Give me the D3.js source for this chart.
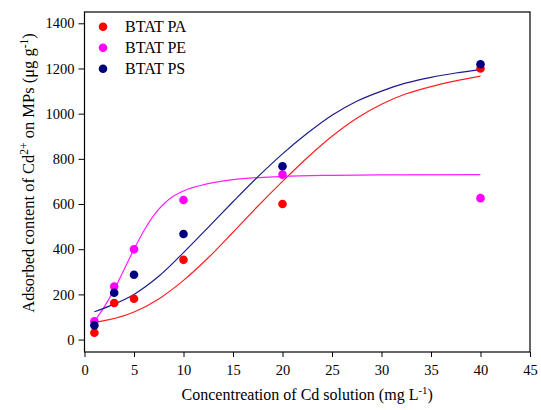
<!DOCTYPE html>
<meta charset="utf-8">
<style>
body { margin: 0; background: #fff; }
svg text { font-family: "Liberation Serif", "Times New Roman", serif; fill: #000; }
.axis path, .axis line { stroke: #000; stroke-width: 1px; }
.fit { fill: none; stroke-width: 1.2px; }
</style>
<div id="chart"></div>
<script src="https://d3js.org/d3.v7.min.js"></script>
<script>

// measured points
var conc = [1, 3, 5, 10, 20, 40];
var pa = [30, 162, 181, 353, 600, 1200];
var pe = [81, 235, 400, 618, 730, 626];
var ps = [63, 207, 287, 467, 767, 1219];

// fitted curves
var fitPaX = [1, 2.5, 5, 7.5, 10, 12.5, 15, 17.5, 20, 22.5, 25, 27.5, 30, 32.5, 35, 37.5, 40];
var fitPa = [76, 88, 122, 180, 262, 362, 475, 590, 700, 805, 900, 980, 1042, 1088, 1120, 1145, 1166];
var fitPeX = [1, 2, 3, 4, 5, 6, 7, 8, 9, 10, 12.5, 15, 20, 25, 30, 40];
var fitPe = [81, 145, 221, 310, 400, 482, 550, 600, 635, 658, 690, 708, 722, 727, 729, 730];
var fitPsX = [1, 2.5, 5, 7.5, 10, 12.5, 15, 17.5, 20, 22.5, 25, 27.5, 30, 32.5, 35, 37.5, 40];
var fitPs = [123, 148, 200, 280, 385, 497, 610, 720, 822, 913, 993, 1055, 1100, 1136, 1161, 1180, 1195];

var xTicks = [0, 5, 10, 15, 20, 25, 30, 35, 40, 45];
var yTicks = [0, 200, 400, 600, 800, 1000, 1200, 1400];

var seriesNames = ["BTAT PA", "BTAT PE", "BTAT PS"];
var colors = ["#ff0000", "#ff00ff", "#000080"];
var lineColors = ["#ff2020", "#ff20ff", "#1c1c8c"];

var width = 541, height = 410;
var mLeft = 84.5, mRight = 530, mTop = 12, mBottom = 352;

var svg = d3.select("#chart").append("svg")
    .attr("width", width)
    .attr("height", height);

var x = d3.scaleLinear().domain([0, 45]).range([mLeft, mRight]);
var y = d3.scaleLinear().domain([-55, 1450]).range([mBottom, mTop]);

// frame
svg.append("rect")
    .attr("x", mLeft).attr("y", mTop)
    .attr("width", mRight - mLeft).attr("height", mBottom - mTop)
    .attr("fill", "none").attr("stroke", "#000").attr("stroke-width", 1.2);

svg.append("g")
    .attr("class", "axis")
    .attr("transform", "translate(0," + mBottom + ")")
    .call(d3.axisBottom(x).tickValues(xTicks).tickSize(5).tickSizeOuter(0))
    .call(function(g) { g.select(".domain").remove(); })
    .selectAll("text").attr("font-size", 14.5).attr("dy", "1.05em");

svg.append("g")
    .attr("class", "axis")
    .attr("transform", "translate(" + mLeft + ",0)")
    .call(d3.axisLeft(y).tickValues(yTicks).tickFormat(d3.format("d")).tickSize(6).tickPadding(4).tickSizeOuter(0))
    .call(function(g) { g.select(".domain").remove(); })
    .selectAll("text").attr("font-size", 14.5);

svg.selectAll(".axis text").attr("font-family", "Liberation Serif");

// axis titles
var xt = svg.append("text")
    .attr("x", (mLeft + mRight) / 2).attr("y", 400)
    .attr("text-anchor", "middle").attr("font-size", 16);
xt.append("tspan").text("Concentreation of Cd solution (mg L");
xt.append("tspan").attr("dy", -6).attr("font-size", 11).text("-1");
xt.append("tspan").attr("dy", 6).text(")");

var yt = svg.append("text")
    .attr("transform", "translate(34,173) rotate(-90)")
    .attr("text-anchor", "middle").attr("font-size", 16.5);
yt.append("tspan").text("Adsorbed content of Cd");
yt.append("tspan").attr("dy", -6).attr("font-size", 11.5).text("2+");
yt.append("tspan").attr("dy", 6).text(" on MPs  (\u03bcg g");
yt.append("tspan").attr("dy", -6).attr("font-size", 11.5).text("-1");
yt.append("tspan").attr("dy", 6).text(")");

// fitted curves
var fits = [
  { xs: fitPaX, ys: fitPa },
  { xs: fitPeX, ys: fitPe },
  { xs: fitPsX, ys: fitPs }
];
var line = d3.line()
    .x(function(d) { return x(d[0]); })
    .y(function(d) { return y(d[1]); })
    .curve(d3.curveMonotoneX);

fits.forEach(function(f, i) {
  svg.append("path")
      .attr("class", "fit")
      .attr("stroke", lineColors[i])
      .attr("d", line(d3.zip(f.xs, f.ys)));
});

// points
var series = [pa, pe, ps];
series.forEach(function(vals, i) {
  svg.append("g").selectAll("circle")
      .data(d3.zip(conc, vals))
      .enter().append("circle")
      .attr("cx", function(d) { return x(d[0]); })
      .attr("cy", function(d) { return y(d[1]); })
      .attr("r", 4.3)
      .attr("fill", colors[i]);
});

// legend
var legend = svg.append("g").selectAll("g")
    .data(seriesNames)
    .enter().append("g")
    .attr("transform", function(d, i) { return "translate(103," + (26.7 + i * 21) + ")"; });
legend.append("circle").attr("r", 4.3).attr("fill", function(d, i) { return colors[i]; });
legend.append("text")
    .attr("x", 22).attr("dy", "0.35em")
    .attr("font-size", 16)
    .text(function(d) { return d; });

</script>
